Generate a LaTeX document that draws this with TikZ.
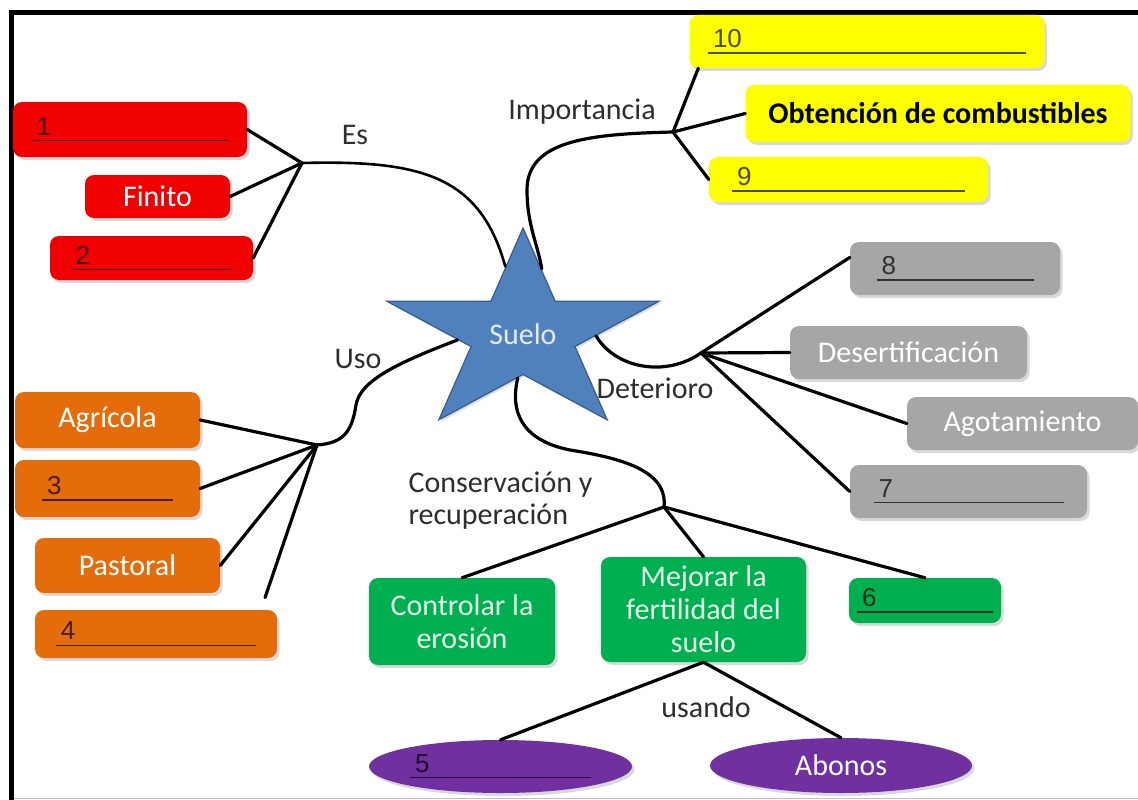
\documentclass[tikz,border=0pt]{standalone}
\usepackage{fontspec}
\setmainfont{Carlito}
\newfontfamily\numfont{Liberation Sans}
\usetikzlibrary{shapes.geometric,shadows}

\definecolor{boxred}{RGB}{240,0,0}
\definecolor{boxyellow}{RGB}{255,255,0}
\definecolor{boxgrey}{RGB}{166,166,166}
\definecolor{boxgreen}{RGB}{0,176,80}
\definecolor{boxpurple}{RGB}{112,48,160}
\definecolor{boxorange}{RGB}{228,108,10}
\definecolor{starblue}{RGB}{79,129,189}
\definecolor{starline}{RGB}{56,93,138}
\definecolor{startext}{RGB}{225,235,248}
\definecolor{mint}{RGB}{228,250,232}

\newcommand{\numblank}[2]{\rlap{\rule[-6pt]{#2}{1.2pt}}\makebox[#2][l]{\hspace{5pt}{\numfont\fontsize{26}{26}\selectfont #1}}}

\begin{document}
\begin{tikzpicture}[
    x=1pt, y=-1pt,
    every node/.style={font=\fontsize{30}{33}\selectfont},
    box/.style={rectangle, rounded corners=9pt, inner sep=0pt, align=center, text=white,
        drop shadow={shadow xshift=2.5pt, shadow yshift=-3pt, opacity=0.3}},
    redbox/.style={box, fill=boxred},
    yellowbox/.style={box, fill=boxyellow, text=black},
    greybox/.style={box, fill=boxgrey},
    greenbox/.style={box, fill=boxgreen, text=mint},
    orangebox/.style={box, fill=boxorange},
    purplebox/.style={box, ellipse, fill=boxpurple},
    fillin/.style={text=black, text opacity=0.7},
    tag/.style={text=black!82},
    link/.style={line width=3.2pt, line cap=round}
]
    \useasboundingbox (0,0) rectangle (1138,800);
    \draw[line width=4.5pt] (11.5,800) -- (11.5,12.5) -- (1138,12.5);
    \draw[black!25, line width=1.5pt] (14,798.5) -- (1138,798.5);

    \node[star, star points=5, star point ratio=2.62, minimum size=212pt, inner sep=0pt,
        xscale=1.35, fill=starblue, draw=starline, line width=1.2pt, text=startext,
        drop shadow={shadow xshift=2pt, shadow yshift=-2pt, opacity=0.25}] (S) at (523,334)
        {\scalebox{0.74}[1]{Suelo}};

    % Es
    \node[redbox, fillin, minimum width=234pt, minimum height=55pt] (R1) at (130,129.5) {\numblank{1}{197pt}};
    \node[redbox, minimum width=145pt, minimum height=43pt] (Fin) at (157.5,196.5) {Finito};
    \node[redbox, fillin, minimum width=203pt, minimum height=44pt] (R2) at (151.5,258) {\numblank{2}{162pt}};

    % Importancia
    \node[yellowbox, fillin, minimum width=355pt, minimum height=53pt] (Y10) at (867,41.5) {\numblank{10}{318pt}};
    \node[yellowbox, minimum width=385pt, minimum height=57pt, font=\fontsize{30}{33}\selectfont\bfseries] (Ob) at (938,113.5) {Obtención de combustibles};
    \node[yellowbox, fillin, minimum width=279pt, minimum height=45pt] (Y9) at (848.5,179.5) {\numblank{9}{233pt}};

    % Uso
    \node[orangebox, minimum width=185pt, minimum height=56pt] (Agr) at (107.5,420) {Agrícola};
    \node[orangebox, fillin, minimum width=185pt, minimum height=57pt] (O3) at (107.5,488.5) {\numblank{3}{131pt}};
    \node[orangebox, minimum width=185pt, minimum height=55pt] (Pas) at (127.5,565.5) {Pastoral};
    \node[orangebox, fillin, minimum width=242pt, minimum height=48pt] (O4) at (156,634) {\numblank{4}{200pt}};

    % Deterioro
    \node[greybox, fillin, minimum width=210pt, minimum height=53pt] (G8) at (955,268.5) {\numblank{8}{157pt}};
    \node[greybox, minimum width=237pt, minimum height=53pt] (Des) at (908.5,352.5) {Desertificación};
    \node[greybox, minimum width=231pt, minimum height=53pt] (Ag) at (1022.5,423.5) {Agotamiento};
    \node[greybox, fillin, minimum width=237pt, minimum height=53pt] (G7) at (968.5,491.5) {\numblank{7}{190pt}};

    % Conservacion y recuperacion
    \node[greenbox, minimum width=186pt, minimum height=87pt] (Ctl) at (462,621.5) {Controlar la\\erosión};
    \node[greenbox, minimum width=205pt, minimum height=105pt] (Mej) at (703.5,609.5) {Mejorar la\\fertilidad del\\suelo};
    \node[greenbox, fillin, minimum width=152pt, minimum height=45pt] (V6) at (925,600.5) {\numblank{6}{136pt}};
    \node[purplebox, fillin, minimum width=263pt, minimum height=53pt] (E5) at (500.5,766.5) {\numblank{5}{181pt}};
    \node[purplebox, minimum width=262pt, minimum height=55pt] (Ab) at (841,765.5) {Abonos};

    \node[tag] (lEs) at (355,135) {Es};
    \node[tag] (lImp) at (582,112) {Importancia};
    \node[tag] (lUso) at (358,359) {Uso};
    \node[tag] (lDet) at (655,388) {Deterioro};
    \node[tag, align=left, anchor=west, font=\fontsize{30}{32}\selectfont] (lCon) at (405,501) {Conservación y\\recuperación};
    \node[tag] (lUsa) at (706,707) {usando};

    \coordinate (hEs) at (302,163);
    \coordinate (hImp) at (673,132);
    \coordinate (hUso) at (317,445);
    \coordinate (hDet) at (701,353);
    \coordinate (hCon) at (664,507);

    \draw[link, line width=2.6pt] (hEs) .. controls (420,160) and (480,175) .. (S.101);
    \draw[link] (hImp) .. controls (590,134) and (527,140) .. (527,190)
        .. controls (527,225) and (538,245) .. (S.78);
    \draw[link] (hUso) .. controls (345,443) and (352,430) .. (356,405)
        .. controls (360,380) and (400,362) .. (S.187);
    \draw[link] (S.358) .. controls (615,368) and (665,378) .. (hDet);
    \draw[link] (S.265) .. controls (510,410) and (520,440) .. (570,450)
        .. controls (620,458) and (668,470) .. (hCon);

    \path[link]
        (hEs) edge (R1.east)
        (hEs) edge (Fin.east)
        (hEs) edge (R2.east)
        (hImp) edge (Y10.189)
        (hImp) edge (Ob.west)
        (hImp) edge (Y9.west)
        (hUso) edge (Agr.east)
        (hUso) edge (O3.east)
        (hUso) edge (Pas.east)
        (hUso) edge[shorten >=13pt] (O4.13)
        (hDet) edge (G8.174)
        (hDet) edge (Des.west)
        (hDet) edge (Ag.west)
        (hDet) edge (G7.west)
        (hCon) edge (Ctl.north)
        (hCon) edge (Mej.north)
        (hCon) edge (V6.north)
        (Mej.south) edge (E5.north)
        (Mej.south) edge (Ab.north);
\end{tikzpicture}
\end{document}
